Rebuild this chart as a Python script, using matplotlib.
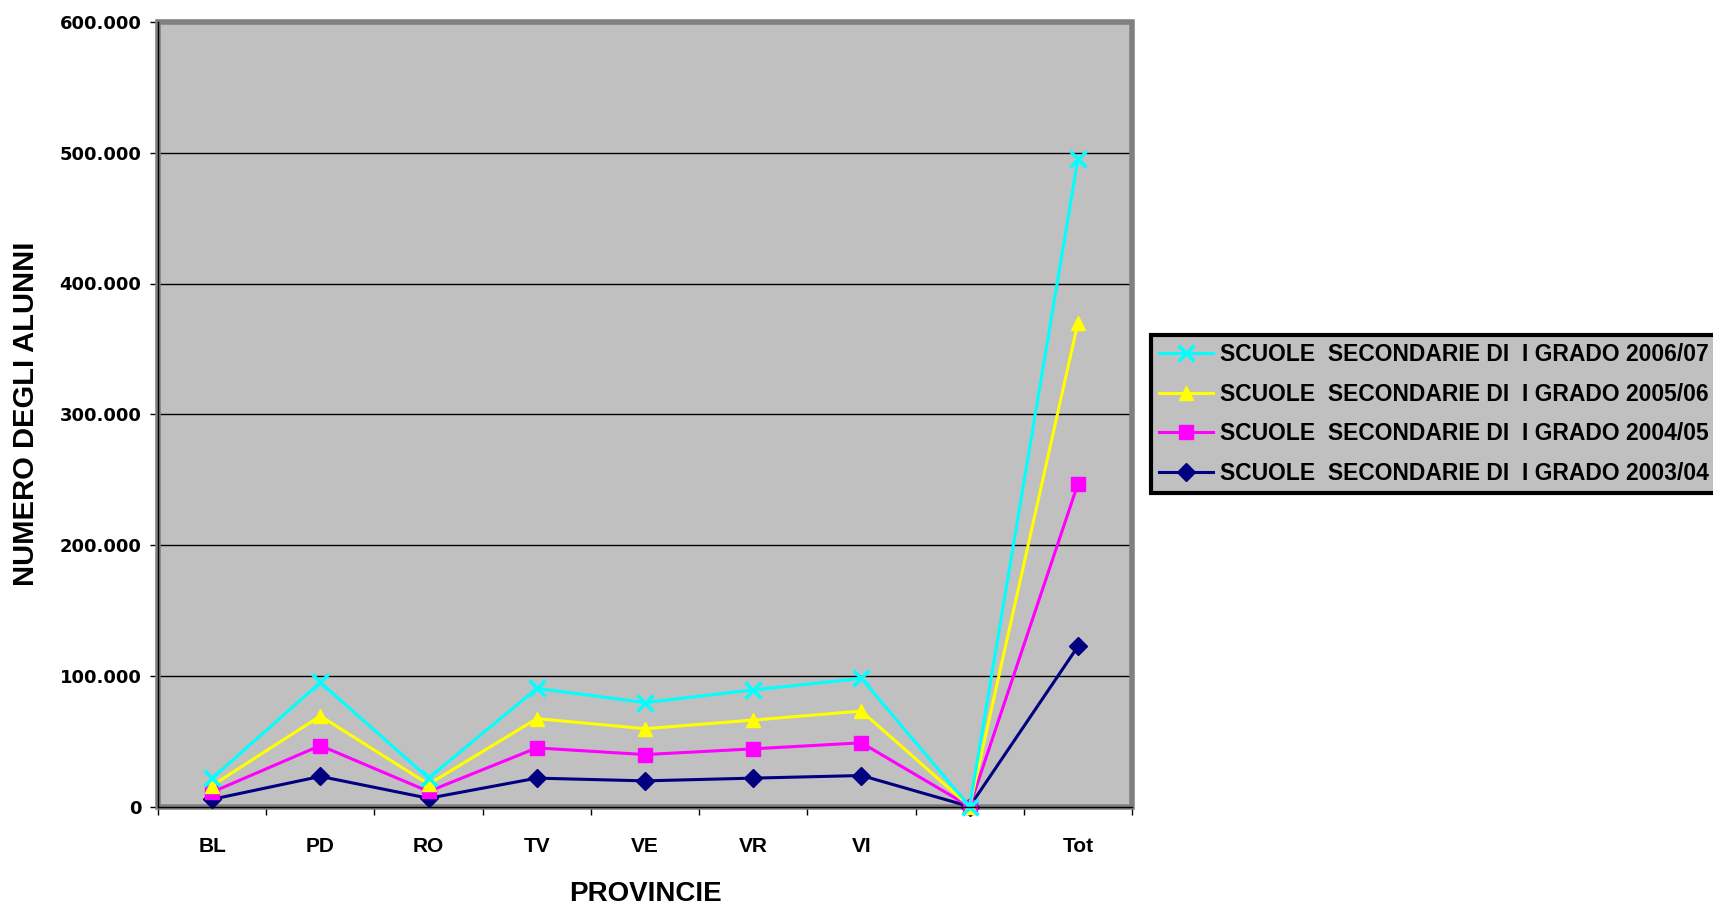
import matplotlib
matplotlib.use("Agg")
import matplotlib.pyplot as plt
import numpy as np
from matplotlib.patches import Rectangle
from matplotlib.ticker import FuncFormatter, FixedLocator

# province categories (the empty slot is a real gap in the source chart)
provinces = ["BL", "PD", "RO", "TV", "VE", "VR", "VI", "", "Tot"]

# pupils per school year, the chart stacks them as lines
alunni_2003_04 = [5500, 23000, 6300, 21700, 19600, 21700, 23700, 0, 122400]
alunni_2004_05 = [5500, 23600, 5200, 23100, 20100, 22400, 25000, 0, 124300]
alunni_2005_06 = [5000, 22600, 5500, 22400, 19800, 22000, 24300, 0, 123300]
alunni_2006_07 = [5500, 25700, 4700, 23100, 20000, 23100, 25000, 0, 125000]

labels = ["SCUOLE  SECONDARIE DI  I GRADO 2003/04",
          "SCUOLE  SECONDARIE DI  I GRADO 2004/05",
          "SCUOLE  SECONDARIE DI  I GRADO 2005/06",
          "SCUOLE  SECONDARIE DI  I GRADO 2006/07"]
colors = ["#000080", "#FF00FF", "#FFFF00", "#00FFFF"]
markers = ["D", "s", "^", "x"]
msizes = [9, 10, 10, 11]

stacked = np.cumsum(np.array([alunni_2003_04, alunni_2004_05,
                              alunni_2005_06, alunni_2006_07]), axis=0)
x = np.arange(len(provinces))

fig = plt.figure(figsize=(17.13, 9.06), dpi=100)
ax = fig.add_axes([158 / 1713, 1 - 806.5 / 906, 974 / 1713, 784.5 / 906])
ax.set_facecolor("#C0C0C0")

handles = []
for i in range(4):
    h, = ax.plot(x, stacked[i], color=colors[i], lw=2.2, marker=markers[i],
                 ms=msizes[i], mew=2.5 if markers[i] == "x" else 1,
                 mec=colors[i], mfc=colors[i], zorder=3 + i, clip_on=False)
    handles.append(h)

ax.set_xlim(-0.5, len(provinces) - 0.5)
ax.set_ylim(0, 600000)
ax.set_yticks(np.arange(0, 600001, 100000))
ax.yaxis.set_major_formatter(FuncFormatter(lambda v, p: f"{int(v):,}".replace(",", ".")))
ax.grid(axis="y", color="black", lw=1, zorder=1)
ax.set_axisbelow(True)

ax.xaxis.set_major_locator(FixedLocator(np.arange(-0.5, len(provinces), 1.0)))
ax.xaxis.set_major_formatter(FuncFormatter(lambda v, p: ""))
ax.set_xticks(x, minor=True)
ax.set_xticklabels(provinces, minor=True, fontfamily="Liberation Sans",
                   fontweight="bold", fontsize=15)
ax.tick_params(axis="x", which="minor", length=0, pad=22)
ax.tick_params(axis="x", which="major", length=6, width=1, direction="out")
ax.tick_params(axis="y", length=6, width=1, direction="out", pad=6)
for t in ax.get_yticklabels():
    t.set_fontfamily("DejaVu Sans")
    t.set_fontweight("bold")
    t.set_fontsize(13)

for s in ["top", "right"]:
    ax.spines[s].set_visible(False)
ax.add_patch(Rectangle((0, 0), 1, 1, transform=ax.transAxes, fill=False,
                       edgecolor="#808080", lw=4, zorder=2, clip_on=False))
for s in ["left", "bottom"]:
    ax.spines[s].set_color("black")
    ax.spines[s].set_linewidth(1)
    ax.spines[s].set_zorder(10)

ax.set_xlabel("PROVINCIE", fontfamily="Liberation Sans", fontweight="bold",
              fontsize=20, labelpad=18)
ax.set_ylabel("NUMERO DEGLI ALUNNI", fontfamily="Liberation Sans",
              fontweight="bold", fontsize=21, labelpad=14)

leg = fig.legend(handles[::-1], labels[::-1], loc="upper left",
                 bbox_to_anchor=(1151 / 1713, 1 - 335 / 906),
                 prop={"family": "Liberation Sans", "weight": "bold", "size": 16.5},
                 frameon=True, fancybox=False, handlelength=2.35,
                 handletextpad=0.3, labelspacing=0.72, borderpad=0.35,
                 borderaxespad=0)
leg.get_frame().set_facecolor("#C0C0C0")
leg.get_frame().set_edgecolor("black")
leg.get_frame().set_linewidth(3)
leg.get_frame().set_alpha(1)

fig.savefig("out.png", dpi=100)
